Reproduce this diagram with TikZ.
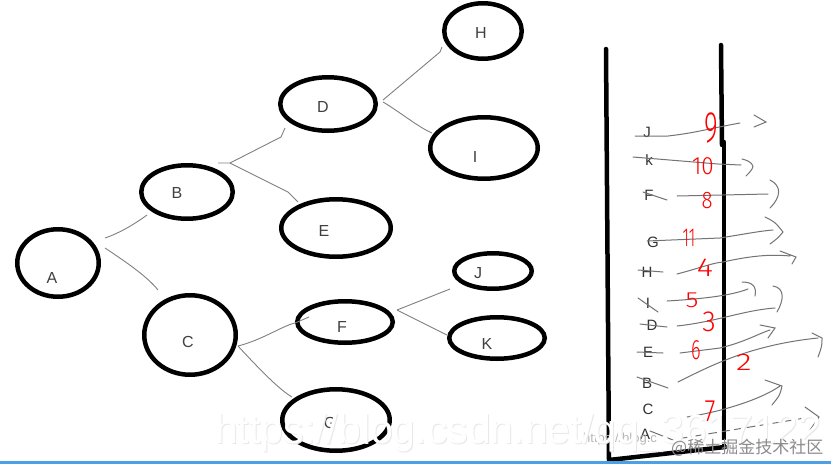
\documentclass[tikz,border=0pt]{standalone}
\usepackage{fontspec}
\setmainfont{Liberation Sans}
\newfontfamily\cjkfont{Noto Sans CJK SC}
\newfontfamily\handfont{Fira Sans Light}
\usetikzlibrary{shapes.geometric,calc}
\definecolor{barblue}{RGB}{77,160,230}
\begin{document}
\begin{tikzpicture}[x=1pt,y=-1pt,
  treenode/.style={ellipse, draw=black, line width=4.5pt, inner sep=0pt},
  lbl/.style={font=\fontsize{16}{16}\selectfont, text=black!75, inner sep=0pt},
  conn/.style={draw=black!50, line width=0.9pt},
  wall/.style={draw=black, line width=4.5pt, line cap=round},
  slbl/.style={font=\fontsize{15}{15}\selectfont, text=black!80, inner sep=0pt},
  arr/.style={draw=black!55, line width=1pt, line cap=round},
  num/.style={text=red, inner sep=0pt}]
\useasboundingbox (0,0) rectangle (831,464);
\fill[white] (0,0) rectangle (831,464);

% ---------------- tree ----------------
\node[treenode, minimum width=81.5pt, minimum height=67.5pt] (A) at (58,263) {};
\node[treenode, minimum width=91.5pt, minimum height=53.5pt] (B) at (187,192) {};
\node[treenode, minimum width=91.5pt, minimum height=79.5pt] (C) at (190,335) {};
\node[treenode, minimum width=95.5pt, minimum height=53.5pt] (D) at (328,104) {};
\node[treenode, minimum width=109.5pt, minimum height=57.5pt] (E) at (336,228) {};
\node[treenode, minimum width=95.5pt, minimum height=41.5pt] (F) at (345,322) {};
\node[treenode, minimum width=107.5pt, minimum height=61.5pt] (G) at (336,420) {};
\node[treenode, minimum width=77.5pt, minimum height=55.5pt] (H) at (483,31) {};
\node[treenode, minimum width=107.5pt, minimum height=61.5pt] (I) at (484,148) {};
\node[treenode, minimum width=77.5pt, minimum height=35.5pt] (J) at (493,271) {};
\node[treenode, minimum width=95.5pt, minimum height=41.5pt] (K) at (497,338) {};

\node[lbl] (tA) at (52,278) {A};
\node[lbl] (tB) at (177,193) {B};
\node[lbl] (tC) at (188,342) {C};
\node[lbl] (tD) at (323,107) {D};
\node[lbl] (tE) at (324,231) {E};
\node[lbl] (tF) at (342,327) {F};
\node[lbl] (tG) at (330,423) {G};
\node[lbl] (tH) at (481,33) {H};
\node[lbl] (tI) at (475,157) {I};
\node[lbl] (tJ) at (478,273) {J};
\node[lbl] (tK) at (487,344) {K};

\draw[conn] ($(A)+(47,-25)$) .. controls (117,234) and (132,226) .. ($(B)+(-40,23)$);
\draw[conn] ($(A)+(47,-15)$) .. controls (123,260) and (147,276) .. ($(C)+(-32,-45)$);
\draw[conn] ($(B)+(31,-29)$) -- (230,163) -- (281,137) -- ($(D)+(-43,24)$);
\draw[conn] (230,163) -- (288,192) -- ($(E)+(-38,-26)$);
\draw[conn] ($(D)+(55,-4)$) -- (440,52) -- ($(H)+(-41,16)$);
\draw[conn] ($(D)+(55,-2)$) .. controls (400,112) and (418,127) .. ($(I)+(-52,-15)$);
\draw[conn] ($(C)+(48,11)$) .. controls (262,340) and (282,326) .. (295,323) -- ($(F)+(-36,-5)$);
\draw[conn] ($(C)+(48,11)$) .. controls (262,372) and (280,390) .. ($(G)+(-44,-23)$);
\draw[conn] ($(F)+(52,-12)$) -- ($(J)+(-43,18)$);
\draw[conn] ($(F)+(52,-12)$) -- ($(K)+(-50,-3)$);

% ---------------- stack ----------------
\draw[wall] (606,49) -- (609,460) -- (725,447);
\draw[wall] (721,45) -- (722,145);
\draw[wall] (724,142) -- (724,447);

\node[slbl] (sJ) at (647,132) {J};
\node[slbl] (sk) at (649,160) {k};
\node[slbl] (sF) at (649,195) {F};
\node[slbl] (sG) at (653,242) {G};
\node[slbl] (sH) at (647,272) {H};
\node[slbl] (sI) at (648,303) {I};
\node[slbl] (sD) at (652,325) {D};
\node[slbl] (sE) at (648,352) {E};
\node[slbl] (sB) at (647,383) {B};
\node[slbl] (sC) at (648,409) {C};
\node[slbl] (sA) at (645,434) {A};

\draw[arr] ($(sJ)+(-12,4)$) -- (668,136) .. controls (695,133) and (712,128) .. (740,123)
  (754,115) -- (766,122) -- (754,127);
\draw[arr] ($(sk)+(-16,-3)$) -- (718,164) -- (741,165)
  (742,159) .. controls (751,161) and (755,166) .. (752,169) .. controls (750,172) .. (746,176);
\draw[arr] ($(sF)+(-6,-3)$) -- ($(sF)+(18,5)$) (677,196) -- (768,194)
  (770,180) .. controls (782,186) and (781,197) .. (770,208);
\draw[arr] ($(sG)+(-6,-1)$) -- (720,238) .. controls (745,234) and (760,231) .. (773,230)
  (765,217) .. controls (775,222) .. (783,232) .. controls (778,238) .. (770,244);
\draw[arr] ($(sH)+(-9,-2)$) -- ($(sH)+(16,0)$)
  (677,274) .. controls (700,268) and (712,263) .. (723,262) .. controls (750,256) and (770,254) .. (790,256)
  (780,251) -- (796,257) -- (792,264);
\draw[arr] ($(sI)+(-10,-5)$) -- ($(sI)+(10,9)$)
  (667,301) .. controls (700,299) and (730,296) .. (748,289)
  (742,282) .. controls (752,282) and (757,286) .. (755,296);
\draw[arr] ($(sD)+(-12,-1)$) -- ($(sD)+(15,2)$)
  (677,326) .. controls (715,322) and (745,310) .. (775,308)
  (773,286) .. controls (785,288) and (784,300) .. (777,312);
\draw[arr] ($(sE)+(-11,0)$) -- ($(sE)+(15,1)$)
  (680,353) -- (720,348) .. controls (745,342) and (760,333) .. (770,330)
  (760,325) -- (775,328) -- (768,338);
\draw[arr] ($(sB)+(-10,-6)$) -- ($(sB)+(21,5)$)
  (678,382) .. controls (710,366) and (750,345) .. (818,338)
  (812,333) -- (822,338) .. controls (822,346) .. (818,357);
\draw[arr] ($(sC)+(39,8)$) .. controls (720,412) and (760,400) .. (780,386)
  (765,380) -- (782,386) .. controls (780,395) .. (772,405);
\draw[arr] ($(sA)+(5,-3)$) -- (673,440);
\draw[arr, dash pattern=on 8pt off 5pt] (683,438) -- (805,418);
\draw[arr] (805,407) -- (819,417) -- (808,433);

% red numbers
\node[num, font=\handfont\fontsize{44}{44}\selectfont] (n9) at (711,128) {\scalebox{0.6}[1]{9}};
\node[num, font=\handfont\fontsize{25}{25}\selectfont] (n10) at (703,166) {\scalebox{0.9}[1]{10}};
\node[num, font=\handfont\fontsize{24}{24}\selectfont] (n8) at (707,201) {\scalebox{0.85}[1]{8}};
\node[num, font=\handfont\fontsize{26}{26}\selectfont] (n11) at (689,238) {\scalebox{0.6}[1]{11}};
\node[num, font=\handfont\fontsize{26}{26}\selectfont] (n4) at (705,268) {\scalebox{1.2}[1]{4}};
\node[num, font=\handfont\fontsize{22}{22}\selectfont] (n5) at (692,300) {\scalebox{1.2}[1]{5}};
\node[num, font=\handfont\fontsize{29}{29}\selectfont] (n3) at (709,322) {\scalebox{0.95}[1]{3}};
\node[num, font=\handfont\fontsize{28}{28}\selectfont] (n6) at (696,350) {\scalebox{0.65}[1]{6}};
\node[num, font=\handfont\fontsize{24}{24}\selectfont] (n2) at (744,362) {\scalebox{1.35}[1]{2}};
\node[num, font=\handfont\fontsize{31}{31}\selectfont] (n7) at (710,411) {\scalebox{0.8}[1]{7}};

% watermarks
\node[anchor=base west, inner sep=0pt, font=\fontsize{13}{13}\selectfont, text=black!28] (wm2) at (583,442) {https://blog.c};
\node[anchor=base west, inner sep=0pt, font=\fontsize{41}{41}\selectfont, text=black!9] (wm1s) at (216,444) {https://blog.csdn.net/qq\_3617122};
\node[anchor=base west, inner sep=0pt, font=\fontsize{41}{41}\selectfont, text=white] (wm1) at (215,443) {https://blog.csdn.net/qq\_3617122};
\node[anchor=west, inner sep=0pt, font=\cjkfont\fontsize{17}{17}\selectfont, text=black!45] (wm3) at (671,448) {@稀土掘金技术社区};

\fill[barblue] (0,461) rectangle (831,464);
\end{tikzpicture}
\end{document}
